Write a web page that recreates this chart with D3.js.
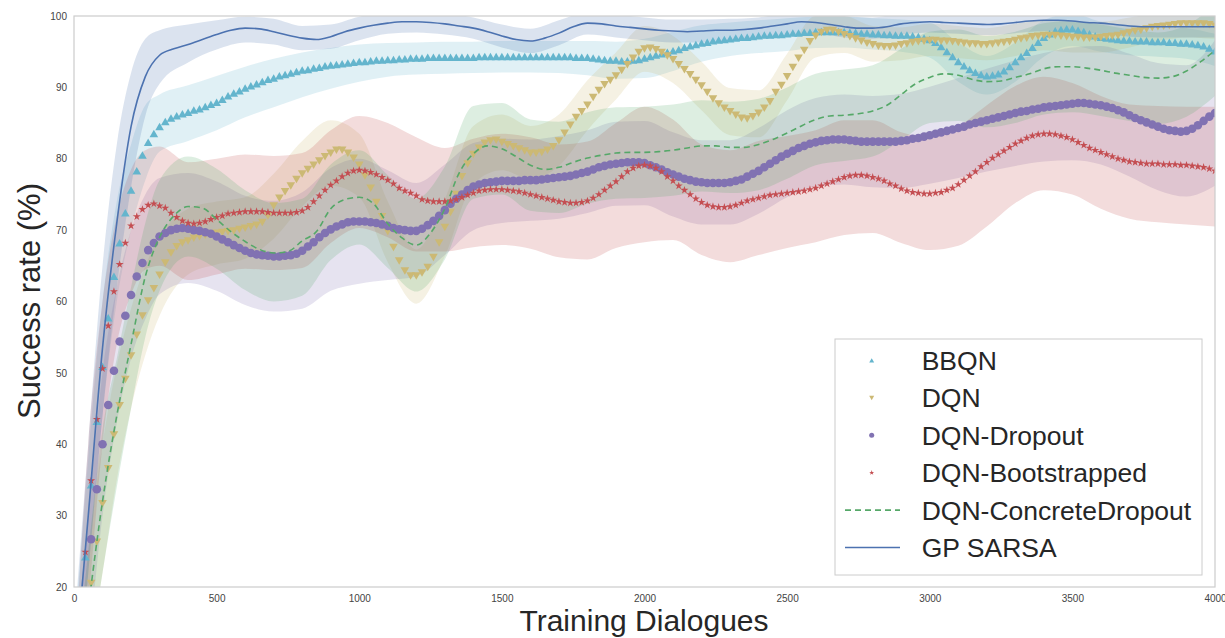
<!DOCTYPE html>
<html>
<head>
<meta charset="utf-8">
<script src="https://cdn.jsdelivr.net/npm/d3@7/dist/d3.min.js"></script>
<style>
html,body{margin:0;padding:0;background:#fff;}
svg{display:block;}
</style>
</head>
<body>
<svg id="chart" width="1225" height="638"></svg>
<script>
// ---------------- DATA ----------------
const seriesNames = ["BBQN","DQN","DQN-Dropout","DQN-Bootstrapped","DQN-ConcreteDropout","GP SARSA"];
const seriesColors = ["#64b5cd","#ccb974","#8172b2","#c44e52","#55a868","#4c72b0"];
const xTicks = [0,500,1000,1500,2000,2500,3000,3500,4000];
const yTicks = [20,30,40,50,60,70,80,90,100];
const xLabel = "Training Dialogues";
const yLabel = "Success rate (%)";

// marker series: one value every 20 dialogues, 20..4000 (rows of 10 = 200 dialogues)
const markerX = d3.range(20, 4001, 20);
const bbqnMean = [
 14,24.2,34.3,43.2,50.9,57.7,63.5,68.2,72.4,75.6,
 78.3,80.5,82.3,83.5,84.5,85.2,85.7,86.0,86.3,86.5,
 86.8,87.0,87.3,87.6,87.9,88.3,88.8,89.2,89.5,89.9,
 90.2,90.5,90.8,91.1,91.3,91.6,91.8,92.0,92.2,92.4,
 92.5,92.7,92.8,93.0,93.1,93.2,93.3,93.4,93.5,93.6,
 93.6,93.7,93.8,93.8,93.9,93.9,94.0,94.0,94.1,94.1,
 94.1,94.2,94.2,94.2,94.2,94.2,94.2,94.2,94.2,94.2,
 94.3,94.3,94.3,94.3,94.3,94.3,94.3,94.3,94.3,94.3,
 94.3,94.3,94.3,94.3,94.3,94.3,94.3,94.2,94.2,94.2,
 94.1,94.0,93.9,93.8,93.8,93.7,93.7,93.8,93.9,94.1,
 94.3,94.5,94.7,94.9,95.1,95.3,95.6,95.8,96.0,96.2,
 96.3,96.5,96.6,96.7,96.8,96.9,97.0,97.0,97.1,97.2,
 97.3,97.3,97.4,97.4,97.5,97.6,97.6,97.7,97.7,97.8,
 97.8,97.8,97.8,97.8,97.8,97.7,97.7,97.6,97.6,97.5,
 97.5,97.4,97.4,97.3,97.3,97.3,97.2,97.1,96.9,96.7,
 96.3,95.7,95.0,94.3,93.6,93.0,92.5,92.1,91.8,91.6,
 91.7,91.9,92.3,92.9,93.6,94.3,94.9,95.6,96.3,97.0,
 97.5,97.9,98.1,98.2,98.2,98.0,97.8,97.5,97.2,97.0,
 96.9,96.8,96.7,96.6,96.6,96.5,96.5,96.5,96.4,96.4,
 96.4,96.3,96.3,96.2,96.2,96.1,96.0,95.8,95.5,95.1
];
const dqnMean = [
 8,14,20.5,26.3,31.7,36.6,41.3,45.4,49.1,52.4,
 55.3,58.0,60.1,61.8,63.7,65.4,66.8,67.7,68.2,68.5,
 68.9,69.1,69.3,69.4,69.6,69.7,69.8,69.9,70.1,70.3,
 70.5,70.7,71.1,72.0,73.4,74.5,75.4,76.2,77.1,77.9,
 78.5,79.1,79.7,80.3,80.8,81.2,81.2,80.8,80.1,79.1,
 77.6,75.9,73.9,71.9,69.8,67.6,65.7,64.3,63.6,63.6,
 64.0,64.8,66.2,68.2,70.4,72.5,75.0,77.5,79.3,80.6,
 81.5,82.2,82.5,82.6,82.3,82.0,81.7,81.4,81.1,80.8,
 80.8,80.9,81.2,81.7,82.5,83.6,84.7,85.8,86.6,87.5,
 88.6,89.6,90.4,91.0,91.6,92.4,93.2,94.1,94.9,95.4,
 95.5,95.3,94.9,94.4,93.9,93.2,92.5,91.8,91.0,90.2,
 89.3,88.4,87.7,87.1,86.6,86.1,85.7,85.6,85.9,86.4,
 87.1,88.0,89.3,90.3,91.5,92.8,94.1,95.2,96.4,97.2,
 97.7,98.0,98.0,97.7,97.4,97.1,96.8,96.5,96.2,96.0,
 95.8,95.7,95.7,95.8,96.0,96.1,96.3,96.4,96.5,96.6,
 96.6,96.5,96.5,96.4,96.3,96.2,96.1,96.1,96.0,96.0,
 96.1,96.2,96.3,96.4,96.6,96.8,96.9,97.1,97.2,97.3,
 97.3,97.3,97.2,97.1,97.0,97.0,96.9,96.9,96.9,97.0,
 97.1,97.2,97.3,97.5,97.7,97.9,98.0,98.2,98.4,98.5,
 98.6,98.7,98.8,98.9,98.9,98.9,98.9,98.9,98.8,98.6
];
const dropoutMean = [
 10,17,26.7,33.7,40.0,45.5,50.3,54.4,58.0,60.9,
 63.5,65.4,67.2,68.2,69.1,69.6,70.0,70.2,70.3,70.2,
 70.0,69.9,69.7,69.5,69.1,68.7,68.3,67.9,67.5,67.1,
 66.8,66.6,66.5,66.4,66.3,66.3,66.4,66.5,66.7,67.1,
 67.7,68.3,69.0,69.6,70.1,70.5,70.8,71.1,71.2,71.2,
 71.2,71.1,71.0,70.8,70.6,70.3,70.1,70.0,69.9,69.9,
 70.2,70.7,71.3,72.0,72.8,73.7,74.4,75.0,75.6,76.1,
 76.4,76.6,76.7,76.8,76.9,76.9,76.9,76.9,77.0,77.0,
 77.0,77.1,77.2,77.3,77.4,77.5,77.6,77.8,78.0,78.2,
 78.5,78.8,79.0,79.2,79.3,79.4,79.5,79.5,79.5,79.4,
 79.1,78.8,78.5,78.1,77.8,77.5,77.2,77.0,76.8,76.7,
 76.6,76.6,76.6,76.6,76.7,76.9,77.1,77.5,77.9,78.3,
 78.8,79.3,79.8,80.3,80.7,81.1,81.5,81.8,82.1,82.3,
 82.5,82.6,82.7,82.7,82.7,82.6,82.5,82.4,82.4,82.4,
 82.4,82.4,82.4,82.4,82.5,82.6,82.8,82.9,83.1,83.3,
 83.5,83.7,83.9,84.1,84.3,84.5,84.8,85.0,85.2,85.4,
 85.6,85.8,86.0,86.2,86.4,86.6,86.7,86.9,87.0,87.2,
 87.3,87.4,87.5,87.6,87.7,87.8,87.8,87.7,87.6,87.5,
 87.3,87.1,86.8,86.5,86.1,85.7,85.4,85.1,84.8,84.5,
 84.2,84.0,83.9,83.8,83.9,84.2,84.7,85.3,85.9,86.4
];
const bootMean = [
 14,24.9,34.9,43.5,50.6,56.6,61.4,65.2,68.2,70.6,
 71.9,72.9,73.5,73.7,73.4,73.1,72.4,71.8,71.3,71.0,
 70.9,71.0,71.2,71.5,71.8,72.0,72.3,72.4,72.5,72.6,
 72.6,72.6,72.6,72.5,72.4,72.4,72.4,72.4,72.5,72.7,
 73.2,74.0,74.8,75.6,76.3,76.9,77.5,78.0,78.3,78.4,
 78.3,78.1,77.8,77.4,77.0,76.5,75.9,75.5,75.2,74.8,
 74.3,74.1,74.0,74.0,74.0,74.1,74.3,74.6,74.9,75.2,
 75.5,75.6,75.7,75.7,75.7,75.6,75.5,75.4,75.2,75.0,
 74.8,74.6,74.4,74.2,74.0,73.9,73.8,73.8,73.9,74.1,
 74.5,75.0,75.6,76.2,76.8,77.5,78.2,78.7,79.0,79.1,
 79.0,78.7,78.2,77.5,76.9,76.2,75.6,75.0,74.4,73.9,
 73.5,73.3,73.2,73.2,73.3,73.5,73.8,74.1,74.3,74.5,
 74.7,74.9,75.0,75.1,75.2,75.3,75.4,75.5,75.7,75.9,
 76.2,76.5,76.8,77.1,77.4,77.6,77.7,77.7,77.6,77.4,
 77.2,76.9,76.5,76.2,75.8,75.5,75.3,75.2,75.1,75.1,
 75.2,75.3,75.6,75.9,76.4,77.0,77.6,78.2,78.9,79.5,
 80.1,80.6,81.1,81.6,82.1,82.5,82.9,83.2,83.4,83.5,
 83.5,83.4,83.2,83.0,82.7,82.3,81.9,81.5,81.2,80.9,
 80.6,80.3,80.0,79.8,79.6,79.5,79.4,79.3,79.3,79.3,
 79.2,79.2,79.2,79.1,79.1,79.0,78.9,78.8,78.6,78.3
];

// line series: one value every 50 dialogues, 0..4000
const lineX = d3.range(0, 4001, 50);
const cdMean = [
 0,17,32,44,54,63.5,69.0,72.0,73.3,73.1,
 71.5,69.8,68.4,67.3,66.8,67.0,68.5,69.8,73.0,74.3,
 74.6,73.7,70.9,68.9,67.9,69.6,73.0,78.0,80.7,81.8,
 81.4,80.3,79.1,78.5,78.8,79.5,80.1,80.5,80.8,80.9,
 80.9,81.0,81.2,81.5,81.8,81.8,81.6,81.6,82.0,82.7,
 83.6,84.6,85.5,86.0,86.1,86.3,86.7,87.5,89.0,90.5,
 91.4,91.9,91.7,91.1,90.8,90.9,91.4,91.9,92.6,92.9,
 92.9,92.7,92.4,92.0,91.7,91.4,91.3,91.5,92.3,93.6,
 95.2
];
const gpMean = [
 7,30,53.5,71,84.5,91.5,94.5,95.4,96.0,96.7,
 97.4,98.0,98.3,98.2,97.8,97.3,96.9,96.7,97.1,97.8,
 98.3,98.7,99.0,99.2,99.2,99.1,98.9,98.6,98.3,97.8,
 97.2,96.7,96.5,96.9,97.6,98.5,99.0,98.9,98.6,98.4,
 98.2,98.0,97.9,97.8,97.9,98.0,98.0,98.1,98.3,98.6,
 98.9,99.2,99.1,98.8,98.5,98.3,98.3,98.5,98.9,99.1,
 99.2,99.1,99.0,98.9,98.8,98.9,99.1,99.3,99.4,99.4,
 99.3,99.1,99.0,98.8,98.6,98.5,98.5,98.5,98.5,98.5,
 98.5
];

// confidence bands (lower / upper) at these dialogue counts
const bandX = [0,50,100,150,200,250,300,
 400,500,600,700,800,900,1000,1100,1200,
 1300,1400,1500,1600,1700,1800,1900,2000,
 2100,2200,2300,2400,2500,2600,2700,2800,2900,3000,
 3100,3200,3300,3400,3500,3600,3700,3800,3900,4000];
const bbqnLo = [0,22,44,60,70,77,81, 82.5,84,85.8,87.2,88.6,89.8,90.8,91.5,91.8, 91.9,92.0,92.1,92.1,92.0,91.7,91.2,91.3, 92.3,93.6,94.4,94.8,95.1,95.5,95.6,95.3,95.0,94.2, 90.8,89.0,90.8,94.3,95.8,95.0,94.5,94.3,94.0,93.0];
const bbqnHi = [12,38,60,74,82,87.5,89.0, 90.3,91.6,92.9,94.0,94.9,95.5,96.0,96.2,96.3, 96.4,96.4,96.5,96.5,96.5,96.5,96.4,96.8, 97.8,98.7,99.1,99.4,99.7,99.9,99.9,99.7,99.5,99.1, 96.3,94.4,96.3,99.4,100.3,99.2,98.7,98.5,98.3,97.5];
const dqnLo = [0,10,22,35,45,52.5,58.0, 63.8,65.2,66.0,68.8,73.3,76.2,74.6,65.5,59.7, 66.3,76.5,78.4,77.2,79.0,84.0,88.3,92.2, 90.6,86.8,83.3,83.0,88.2,94.2,94.8,93.6,93.8,94.4, 94.1,93.8,94.4,95.2,94.9,94.9,95.6,96.5,97.0,96.8];
const dqnHi = [5,25,40,51,59,65,69.0, 73.0,74.0,74.6,77.9,82.5,85.4,83.5,74.0,67.3, 74.3,84.6,86.2,84.6,86.2,91.0,94.9,98.6, 97.2,93.6,89.9,89.6,94.7,100.0,100.0,98.6,98.4,98.9, 98.6,98.3,98.9,99.5,99.2,99.2,99.8,100.4,100.8,100.5];
const dropoutLo = [0,12,30,43,52,57.5,61, 62.6,61.5,59.5,58.6,59.0,61.5,62.5,63.0,63.5, 66.5,70.0,71.0,71.3,71.6,72.4,73.4,73.5, 71.9,70.8,70.8,72.3,74.6,76.1,76.4,76.0,75.9,76.5, 77.3,78.2,79.0,79.6,79.8,79.2,77.5,75.6,74.7,76.2];
const dropoutHi = [10,30,50,62,70,75,77.3, 78.0,76.8,74.8,74.1,75.3,78.7,80.0,78.4,76.6, 79.2,82.2,82.8,82.7,83.2,84.0,85.2,85.3, 83.7,82.6,82.6,84.3,86.8,88.5,89.0,88.8,89.1,90.1, 91.3,92.6,93.8,94.8,95.6,95.8,94.7,93.4,93.1,96.6];
const bootLo = [0,18,40,54,61,64.5,65.0, 63.0,63.8,64.6,64.4,64.7,68.2,70.3,69.0,67.0, 67.0,67.6,67.9,67.4,66.2,65.9,67.5,68.3, 68.6,66.5,65.5,66.5,67.5,68.3,69.3,69.6,68.2,67.2, 67.8,70.5,73.8,75.6,75.0,73.0,71.6,71.1,70.8,70.5];
const bootHi = [8,40,60,72,78.5,81.2,81.7, 79.5,80.0,80.6,80.4,80.8,84.0,86.0,85.0,83.0, 81.5,82.8,83.5,83.0,82.0,82.4,85.0,87.3, 85.5,82.0,81.2,82.5,83.2,84.0,85.4,85.4,83.7,83.0, 84.5,87.5,90.2,91.5,90.6,88.8,87.6,87.4,87.3,87.3];
const cdLo = [0,9,22,34,45,55,61.5, 66.3,64.6,61.6,60.0,60.8,65.8,68.0,64.7,61.4, 65.9,74.4,75.0,72.7,72.4,73.7,74.4,74.5, 74.8,75.4,75.2,75.6,77.2,79.1,79.7,80.3,82.6,85.0, 85.3,84.4,85.0,86.2,86.5,86.0,85.3,84.9,85.9,88.8];
const cdHi = [5,25,42,52,62,71,77.0, 80.3,78.6,75.6,73.8,74.4,79.2,81.2,77.7,74.4, 78.9,87.4,87.8,85.5,85.2,86.5,87.2,87.3, 87.6,88.2,88.0,88.4,90.0,91.9,92.5,93.1,95.4,97.8, 98.1,97.2,97.8,99.0,99.3,98.8,98.1,97.7,98.7,101.6];
const gpLo = [0,22,44,62,76,86,90.5, 93.5,95.3,96.3,96.0,95.2,95.4,96.6,97.5,97.7, 97.4,96.8,95.6,94.8,95.9,97.4,97.0,96.6, 96.3,96.3,96.5,96.8,97.4,97.6,97.0,96.8,97.4,97.7, 97.5,97.3,97.6,97.9,97.8,97.5,97.1,97.0,97.0,97.0];
const gpHi = [14,40,65,82,92,96.8,98, 98.8,99.4,99.9,99.6,98.6,98.8,99.9,100.4,100.6, 100.4,99.8,98.8,98.2,99.4,100.5,100.2,99.8, 99.5,99.5,99.6,99.8,100.4,100.6,100.0,99.8,100.4,100.7, 100.5,100.3,100.6,100.9,100.8,100.5,100.1,100,100,100];

// ---------------- DRAW ----------------
(function draw() {
const FONT = "'Liberation Sans', Arial, Helvetica, sans-serif";
const pL = 74, pR = 1215, pT = 16, pB = 587;
const x = d3.scaleLinear().domain([0, 4000]).range([pL, pR]);
const y = d3.scaleLinear().domain([20, 100]).range([pB, pT]);

const svg = d3.select("#chart");
svg.append("rect").attr("width", 1225).attr("height", 638).attr("fill", "#fff");
svg.append("defs").append("clipPath").attr("id", "clip")
  .append("rect").attr("x", pL).attr("y", pT).attr("width", pR - pL).attr("height", pB - pT);

const plot = svg.append("g").attr("clip-path", "url(#clip)");

// bands
const bands = [[bbqnLo, bbqnHi], [dqnLo, dqnHi], [dropoutLo, dropoutHi], [bootLo, bootHi], [cdLo, cdHi], [gpLo, gpHi]];
const area = d3.area()
  .x((d, i) => x(bandX[i]))
  .y0(d => y(d[0]))
  .y1(d => y(d[1]))
  .curve(d3.curveMonotoneX);
bands.forEach((b, k) => {
  plot.append("path")
    .datum(b[0].map((v, i) => [v, b[1][i]]))
    .attr("d", area)
    .attr("fill", seriesColors[k])
    .attr("fill-opacity", 0.2)
    .attr("stroke", "none");
});

// marker series
const shapes = {
  up: "M0,-3.9L4.3,3.6L-4.3,3.6Z",
  down: "M0,3.9L4.3,-3.6L-4.3,-3.6Z",
  circle: d3.symbol(d3.symbolCircle, 58)(),
  star: d3.symbol(d3.symbolStar, 20)()
};
const markerSeries = [
  { values: bbqnMean, shape: "up", color: seriesColors[0] },
  { values: dqnMean, shape: "down", color: seriesColors[1] },
  { values: dropoutMean, shape: "circle", color: seriesColors[2] },
  { values: bootMean, shape: "star", color: seriesColors[3] }
];
markerSeries.forEach(s => {
  plot.append("g").selectAll("path")
    .data(s.values)
    .join("path")
    .attr("d", shapes[s.shape])
    .attr("transform", (d, i) => `translate(${x(markerX[i])},${y(d)})`)
    .attr("fill", s.color);
});

// lines
const line = d3.line()
  .x((d, i) => x(lineX[i]))
  .y(d => y(d))
  .curve(d3.curveMonotoneX);
plot.append("path").datum(cdMean).attr("d", line)
  .attr("fill", "none").attr("stroke", seriesColors[4]).attr("stroke-width", 1.6)
  .attr("stroke-dasharray", "6,4");
plot.append("path").datum(gpMean).attr("d", line)
  .attr("fill", "none").attr("stroke", seriesColors[5]).attr("stroke-width", 1.6);

// frame
svg.append("rect").attr("x", pL).attr("y", pT).attr("width", pR - pL).attr("height", pB - pT)
  .attr("fill", "none").attr("stroke", "#cccccc").attr("stroke-width", 1.2);

// axes
const gx = svg.append("g").attr("transform", `translate(0,${pB})`)
  .call(d3.axisBottom(x).tickValues(xTicks).tickFormat(d3.format("d")).tickSize(0).tickPadding(8));
gx.select(".domain").remove();
gx.attr("font-family", FONT).attr("font-size", 10);
gx.selectAll("text").attr("fill", "#444");

const gy = svg.append("g").attr("transform", `translate(${pL},0)`)
  .call(d3.axisLeft(y).tickValues(yTicks).tickFormat(d3.format("d")).tickSize(0).tickPadding(7));
gy.select(".domain").remove();
gy.attr("font-family", FONT).attr("font-size", 10);
gy.selectAll("text").attr("fill", "#444");

// axis titles
svg.append("text").text(xLabel)
  .attr("x", 644).attr("y", 631)
  .attr("text-anchor", "middle")
  .attr("font-family", FONT).attr("font-size", 30).attr("fill", "#262626");
svg.append("text").text(yLabel)
  .attr("transform", "translate(39.5,301) rotate(-90)")
  .attr("text-anchor", "middle")
  .attr("font-family", FONT).attr("font-size", 31).attr("fill", "#262626");

// legend
const lg = svg.append("g");
lg.append("rect").attr("x", 835).attr("y", 339).attr("width", 367).attr("height", 236)
  .attr("fill", "#fff").attr("fill-opacity", 0.9).attr("stroke", "#cccccc").attr("stroke-width", 1);
const legendShapes = [
  "M0,-2.3L2.5,2.1L-2.5,2.1Z",
  "M0,2.3L2.5,-2.1L-2.5,-2.1Z",
  d3.symbol(d3.symbolCircle, 20)(),
  d3.symbol(d3.symbolStar, 8)()
];
seriesNames.forEach((name, i) => {
  const cy = 360.5 + i * 37.4;
  if (i < 4) {
    lg.append("path").attr("d", legendShapes[i])
      .attr("transform", `translate(871.7,${cy})`).attr("fill", seriesColors[i]);
  } else {
    lg.append("line").attr("x1", 845).attr("x2", 900).attr("y1", cy).attr("y2", cy)
      .attr("stroke", seriesColors[i]).attr("stroke-width", 1.6)
      .attr("stroke-dasharray", i === 4 ? "6,4" : null);
  }
  lg.append("text").text(name)
    .attr("x", 921.7).attr("y", cy).attr("dy", "0.36em")
    .attr("font-family", FONT).attr("font-size", 26.5).attr("fill", "#262626");
});
})();
</script>
</body>
</html>
